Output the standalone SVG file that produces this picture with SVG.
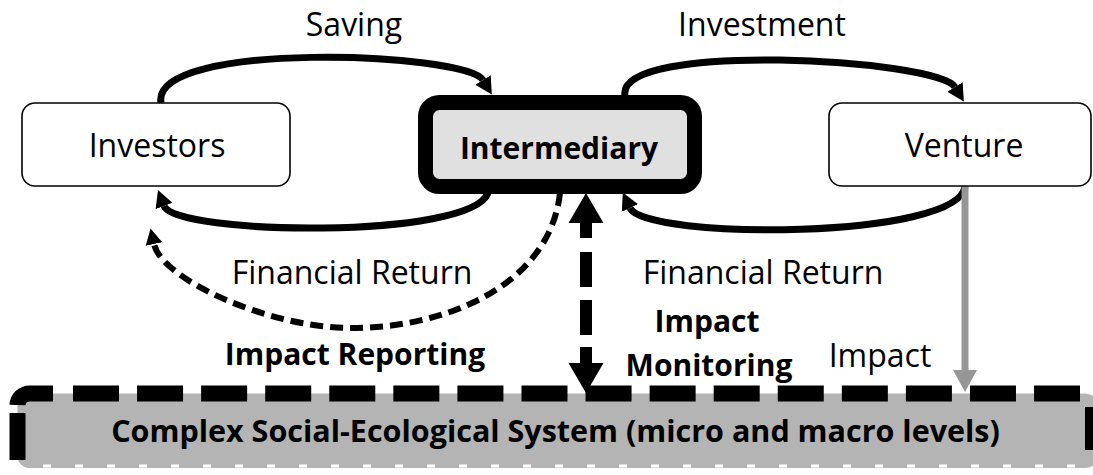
<svg xmlns="http://www.w3.org/2000/svg" width="1093" height="475" viewBox="0 0 1093 475">
  <style>
    .lbl { font-family: "Open Sans", "Noto Sans", "Liberation Sans", sans-serif; font-size: 32px; fill: #000; text-anchor: middle; }
    .bold { font-family: "Open Sans", "Noto Sans", "Liberation Sans", sans-serif; font-size: 30px; font-weight: bold; fill: #000; text-anchor: middle; }
    .box { fill: #fff; stroke: #000; stroke-width: 1.6; }
    .flow { fill: none; stroke: #000; stroke-width: 7; }
    .report { fill: none; stroke: #000; stroke-width: 6; stroke-dasharray: 13 7; }
    .monitor { fill: none; stroke: #000; stroke-width: 12; stroke-dasharray: 15 14 35 13 35 12 16; }
    .impact { fill: none; stroke: #969696; stroke-width: 7; }
    .rim { fill: none; stroke: #000; stroke-width: 16; }
  </style>
  <defs>
    <marker id="headFlow" viewBox="0 -10 18 20" refX="0" refY="0" markerWidth="18" markerHeight="20" markerUnits="userSpaceOnUse" orient="auto">
      <path d="M0,-9 L17,0 L0,9 Z" fill="#000"/>
    </marker>
    <marker id="headReport" viewBox="0 -10 18 20" refX="0" refY="0" markerWidth="18" markerHeight="20" markerUnits="userSpaceOnUse" orient="auto">
      <path d="M0,-8.5 L16,0 L0,8.5 Z" fill="#000"/>
    </marker>
    <marker id="headMonitor" viewBox="0 -18 31 36" refX="0" refY="0" markerWidth="31" markerHeight="36" markerUnits="userSpaceOnUse" orient="auto-start-reverse">
      <path d="M0,-17.5 L30,0 L0,17.5 Z" fill="#000"/>
    </marker>
    <marker id="headImpact" viewBox="0 -13 23 26" refX="0" refY="0" markerWidth="23" markerHeight="26" markerUnits="userSpaceOnUse" orient="auto">
      <path d="M0,-12 L22,0 L0,12 Z" fill="#969696"/>
    </marker>
  </defs>

  <!-- social-ecological system band -->
  <g id="system">
    <rect x="17.5" y="393.5" width="1080" height="74.5" rx="12" fill="#b4b4b4"/>
    <line x1="43" y1="466" x2="1080" y2="466" stroke="#fff" stroke-width="3" stroke-dasharray="8 24"/>
    <path class="rim" d="M17.5,405 A12,12 0 0 1 29.5,393.5 H53"/>
    <path class="rim" d="M73,393.5 H1080" stroke-dasharray="46 18.07"/>
    <path class="rim" d="M17.5,413 V460"/>
    <path class="rim" d="M1093,407 V450"/>
    <text class="bold" x="555.5" y="442" style="font-size:30.5px">Complex Social-Ecological System (micro and macro levels)</text>
  </g>

  <!-- connectors -->
  <g id="connectors">
    <path class="flow" d="M161,103 C150,40 466,52 483,80" marker-end="url(#headFlow)"/>
    <path class="flow" d="M625,96 C615,40 938,59 955,87" marker-end="url(#headFlow)"/>
    <path class="flow" d="M488,193 C470,240 175,235 164,206" marker-end="url(#headFlow)"/>
    <path class="flow" d="M965,186 C960,240 645,240 630,208" marker-end="url(#headFlow)"/>
    <path class="report" d="M560,193 C550,283 450,328 351,328 C270,328 162,280 154,244" marker-end="url(#headReport)"/>
    <path class="monitor" d="M586,223 V363" marker-start="url(#headMonitor)" marker-end="url(#headMonitor)"/>
    <path class="impact" d="M965,186 V370" marker-end="url(#headImpact)"/>
  </g>

  <!-- actors -->
  <g id="investors">
    <rect class="box" x="22" y="103" width="268" height="83" rx="13"/>
    <text class="lbl" x="157" y="157">Investors</text>
  </g>
  <g id="intermediary">
    <rect x="425.5" y="102.5" width="269" height="84" rx="14" fill="#e0e0e0" stroke="#000" stroke-width="15"/>
    <text class="bold" x="559" y="159">Intermediary</text>
  </g>
  <g id="venture">
    <rect class="box" x="829" y="103" width="262" height="83" rx="13"/>
    <text class="lbl" x="964" y="157">Venture</text>
  </g>

  <!-- flow labels -->
  <g id="labels">
    <text class="lbl" x="354" y="36">Saving</text>
    <text class="lbl" x="762" y="36">Investment</text>
    <text class="lbl" x="352" y="284">Financial Return</text>
    <text class="lbl" x="763" y="284">Financial Return</text>
    <text class="bold" x="355" y="365">Impact Reporting</text>
    <text class="bold" x="707" y="332">Impact</text>
    <text class="bold" x="709" y="376">Monitoring</text>
    <text class="lbl" x="880" y="367">Impact</text>
  </g>
</svg>
